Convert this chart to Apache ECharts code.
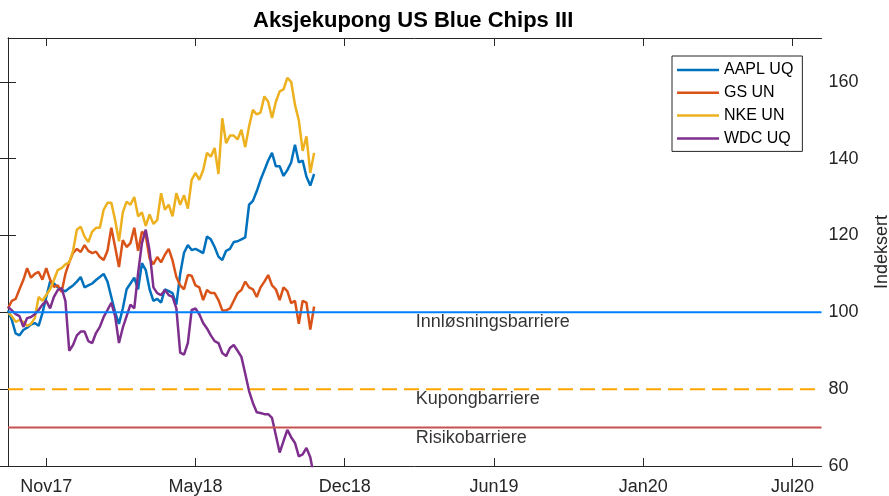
<!DOCTYPE html>
<html>
<head>
<meta charset="utf-8">
<title>Aksjekupong US Blue Chips III</title>
<script src="https://cdn.jsdelivr.net/npm/echarts@6/dist/echarts.min.js"></script>
<style>
html, body { margin: 0; padding: 0; background: #fff; }
#chart { width: 889px; height: 496px; }
</style>
</head>
<body>
<div id="chart"></div>
<script>
// indexed prices, one value every 5 calendar days from 24 Sep 2017 (day 0)
const stepDays = 5
const stockNames = ['AAPL UQ', 'GS UN', 'NKE UN', 'WDC UQ']
const stockColors = ['#0072BD', '#D95319', '#EDB120', '#7E2F8E']

const aapl = [100.5, 98, 94.5, 94, 95.4, 96, 96.8, 97.2, 96.5, 99.8,
    104, 108, 107.5, 106.5, 105.8, 105.5, 106.3, 107, 108, 109.2,
    106.5, 107, 107.5, 108.4, 109.2, 110, 108, 104, 100, 97,
    101, 106, 107.5, 109, 106, 112.8, 111, 106, 103, 103.5,
    102.5, 106, 105.5, 105, 102, 110, 115.5, 117.5, 116.2, 116.5,
    116, 115.4, 119.7, 119, 117, 114.5, 113.6, 116, 116.5, 118.3,
    118.5, 119, 119.5, 128, 129, 131.5, 134.5, 137, 139.5, 141.5,
    138, 138, 135.5, 137, 139, 143.6, 139, 139.5, 135.3, 133, 136]

const gs = [101, 103, 103.5, 106, 108.4, 111.5, 109, 110, 110.5, 108.5,
    111.5, 108.5, 106.6, 107, 105.3, 110, 113, 115.5, 116.5, 115.7,
    117.5, 116, 115.4, 115.8, 114.4, 113.6, 116, 122, 117, 111.8,
    118.8, 117, 118, 122, 116, 121, 120, 114, 112.5, 114.4,
    113, 115, 116.5, 113.5, 109.2, 107, 106, 109.7, 109.5, 107,
    106.5, 103.2, 105.8, 105, 105, 103.2, 100.5, 100.5, 101, 103,
    105, 105.8, 108, 106.5, 106, 104, 106.5, 108, 109.7, 107,
    106, 103.2, 106.5, 105.5, 102.4, 103, 97, 103, 102.5, 95.5, 101.5]

const nke = [100, 99, 97.5, 98, 97.5, 96.5, 97, 98.5, 104, 103,
    104.5, 106, 108.4, 111, 111.5, 112.5, 113, 116, 121.5, 122.3,
    119.7, 118.3, 121, 122, 122, 126.7, 128.5, 128.5, 124, 118.5,
    126, 128.8, 128, 130, 125, 126, 122.5, 125.5, 123, 124,
    131, 126.7, 128, 125, 131, 128, 130.5, 127, 134.5, 136.3,
    134.5, 137, 141.5, 140.5, 142.8, 136, 150.5, 144, 146, 146,
    145, 147.5, 143, 148.4, 152.7, 151.5, 152, 156.2, 154.8, 150.6,
    154.8, 157.5, 158, 161, 160, 154, 150, 142, 145.8, 136.3, 141.5]

const wdc = [101.4, 100.5, 99.5, 99, 96.2, 98.5, 98.8, 99.5, 100.6, 102,
    103, 101, 104, 105.8, 106.3, 103, 90, 91.5, 94, 95,
    95, 92.5, 92, 94.6, 96.2, 98.8, 100.6, 102.5, 99, 92,
    96, 99, 102, 101, 110.2, 118, 121.5, 116, 106.5, 105,
    104.5, 105.8, 104.5, 104, 101, 89.5, 89, 92, 100.6, 101,
    99.5, 97.2, 95.8, 94, 92.5, 92, 89.4, 88.6, 90.7, 91.5,
    90, 88.4, 84, 79.5, 76.4, 74, 73.8, 73.5, 73.5, 72.5,
    68, 63.5, 66.5, 69.4, 67.5, 66, 62.5, 63, 64.7, 62.3, 57]

const tickDays = [50, 245, 440, 635, 830, 1025]
const tickLabels = ['Nov17', 'May18', 'Dec18', 'Jun19', 'Jan20', 'Jul20']
const yTicks = [60, 80, 100, 120, 140, 160]

const barrierNames = ['Innløsningsbarriere', 'Kupongbarriere', 'Risikobarriere']
const barrierLevels = [100, 80, 70]
const barrierColors = ['#0080FF', '#FFA500', '#C85050']
const barrierTypes = ['solid', [15, 7], 'solid']

const xMin = 0, xMax = 1063
const yMin = 60, yMax = 171.4
const xMid = (xMin + xMax) / 2

const font = "'Liberation Sans', Arial, Helvetica, sans-serif"
const ink = '#262626'

let chart = echarts.init(document.getElementById('chart'))

let stockSeries = [aapl, gs, nke, wdc].map((vals, k) => ({
    name: stockNames[k],
    type: 'line',
    symbol: 'none',
    data: vals.map((v, i) => [i * stepDays, v]),
    lineStyle: { color: stockColors[k], width: 2.5 },
    itemStyle: { color: stockColors[k] },
    z: 3
}))

let barrierSeries = barrierLevels.map((lvl, k) => ({
    name: barrierNames[k],
    type: 'line',
    symbol: 'none',
    data: [[xMin, lvl], [xMax, lvl]],
    lineStyle: { color: barrierColors[k], width: 2, type: barrierTypes[k] },
    z: 4
}))

let labelSeries = {
    name: 'labels',
    type: 'scatter',
    symbolSize: 0,
    data: barrierLevels.map((lvl, k) => ({ value: [xMid, lvl], label: { formatter: barrierNames[k] } })),
    label: {
        show: true,
        position: [1, 1],
        align: 'left',
        verticalAlign: 'top',
        fontFamily: font,
        fontSize: 18,
        color: '#000'
    },
    silent: true,
    z: 5
}

let hiddenLabel = { show: false }

let option = {
    animation: false,
    backgroundColor: '#fff',
    title: {
        text: 'Aksjekupong US Blue Chips III',
        left: 253,
        top: 10,
        padding: 0,
        textStyle: { fontFamily: font, fontSize: 22, fontWeight: 'bold', color: '#000' }
    },
    legend: {
        data: stockNames,
        orient: 'vertical',
        left: 672,
        top: 56,
        padding: [5, 9, 4, 5],
        icon: 'rect',
        itemWidth: 42,
        itemHeight: 2.5,
        itemGap: 4.8,
        borderColor: ink,
        borderWidth: 1,
        borderRadius: 0,
        backgroundColor: '#fff',
        textStyle: { fontFamily: font, fontSize: 16, color: '#000', lineHeight: 18 }
    },
    grid: { left: 8, right: 67.5, top: 38, bottom: 30, containLabel: false, outerBoundsMode: 'none' },
    xAxis: [{
        type: 'value',
        min: xMin,
        max: xMax,
        position: 'bottom',
        axisLine: { show: true, lineStyle: { color: ink, width: 1 } },
        axisTick: { show: true, inside: true, length: 8, customValues: tickDays, lineStyle: { color: ink } },
        axisLabel: {
            customValues: tickDays,
            formatter: v => tickLabels[tickDays.indexOf(v)],
            margin: 12,
            fontFamily: font,
            fontSize: 18,
            color: ink
        },
        splitLine: { show: false }
    }, {
        type: 'value',
        min: xMin,
        max: xMax,
        position: 'top',
        axisLine: { show: true, lineStyle: { color: ink, width: 1 } },
        axisTick: { show: true, inside: true, length: 8, customValues: tickDays, lineStyle: { color: ink } },
        axisLabel: hiddenLabel,
        splitLine: { show: false }
    }],
    yAxis: [{
        type: 'value',
        min: yMin,
        max: yMax,
        position: 'right',
        name: 'Indeksert',
        nameLocation: 'middle',
        nameRotate: 90,
        nameGap: 52,
        nameTextStyle: { fontFamily: font, fontSize: 18, color: ink },
        axisLine: { show: true, lineStyle: { color: ink, width: 1 } },
        axisTick: { show: true, inside: true, length: 8, customValues: yTicks, lineStyle: { color: ink } },
        axisLabel: {
            customValues: yTicks,
            margin: 7,
            fontFamily: font,
            fontSize: 18,
            color: ink
        },
        splitLine: { show: false }
    }, {
        type: 'value',
        min: yMin,
        max: yMax,
        position: 'left',
        axisLine: { show: true, lineStyle: { color: ink, width: 1 } },
        axisTick: { show: true, inside: true, length: 8, customValues: yTicks, lineStyle: { color: ink } },
        axisLabel: hiddenLabel,
        splitLine: { show: false }
    }],
    series: stockSeries.concat(barrierSeries, [labelSeries])
}

chart.setOption(option)

window.addEventListener('resize', () => {
    chart.resize()
})
</script>
</body>
</html>
